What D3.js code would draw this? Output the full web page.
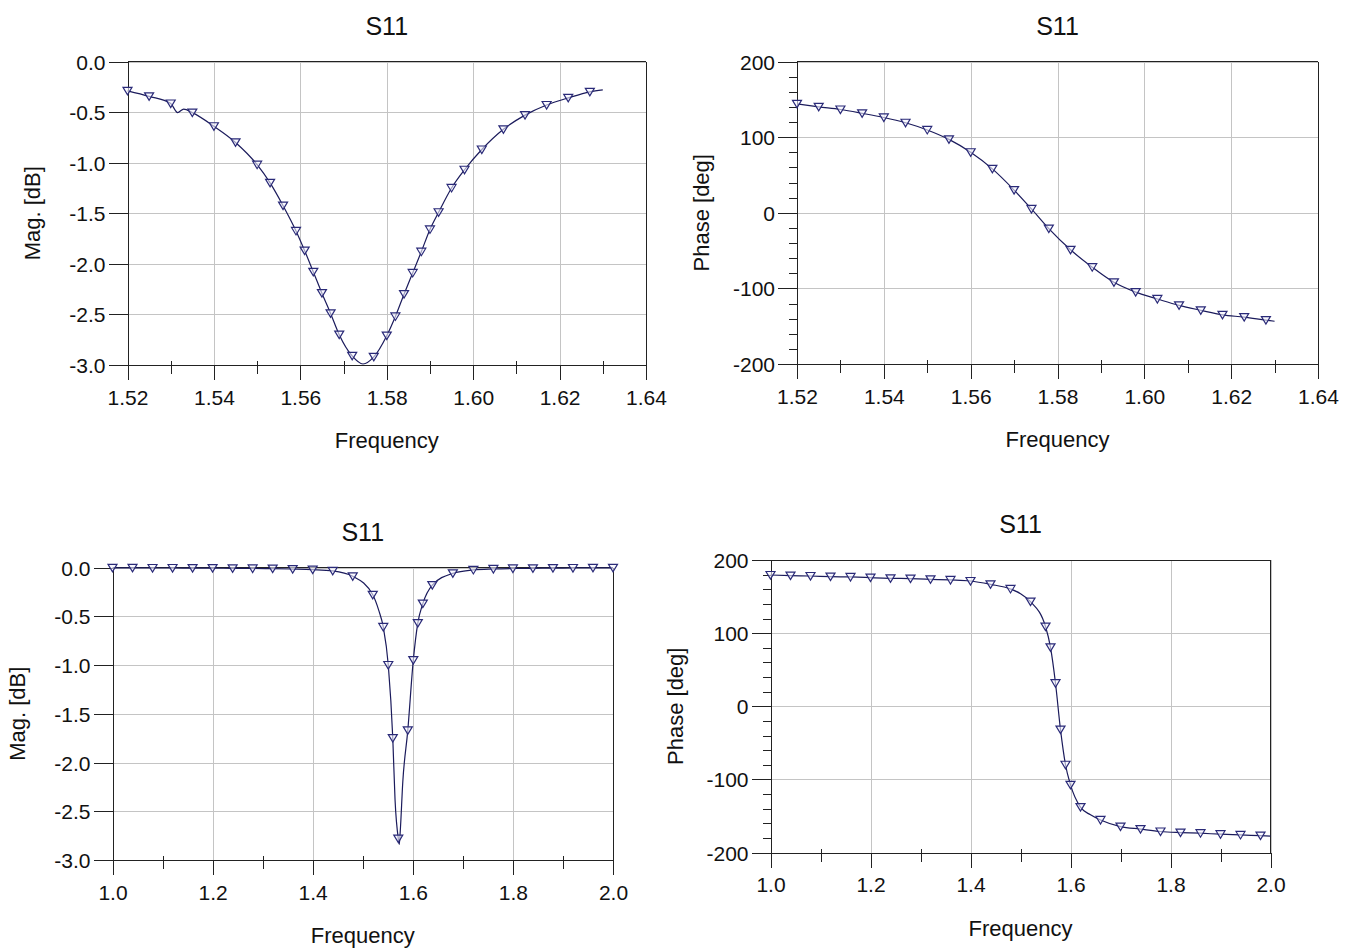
<!DOCTYPE html>
<html><head><meta charset="utf-8">
<script src="https://cdn.jsdelivr.net/npm/d3@7"></script>
<style>
body{margin:0;background:#fff}
svg text{font-family:"Liberation Sans",Arial,sans-serif;fill:#111}
</style>
</head><body>
<svg id="c" width="1355" height="951"></svg>
<script>
// ---------- Data ----------
// Top-left: S11 magnitude, narrow band
const tlMarkFreq = [1.520,1.525,1.530,1.535,1.540,1.545,1.550,1.553,1.556,1.559,1.561,1.563,1.565,1.567,1.569,1.572,1.577,1.580,1.582,1.584,1.586,1.588,1.590,1.592,1.595,1.598,1.602,1.607,1.612,1.617,1.622,1.627];
const tlMarkMag  = [-0.29,-0.345,-0.415,-0.505,-0.64,-0.80,-1.02,-1.20,-1.425,-1.675,-1.87,-2.08,-2.29,-2.49,-2.70,-2.91,-2.92,-2.71,-2.52,-2.30,-2.09,-1.88,-1.66,-1.49,-1.25,-1.07,-0.87,-0.67,-0.53,-0.43,-0.36,-0.30];
const tlExtraFreq = [1.5316,1.5330,1.5745,1.630];
const tlExtraMag  = [-0.505,-0.47,-2.99,-0.28];

// Top-right: S11 phase, narrow band
const trMarkFreq  = [1.520,1.525,1.530,1.535,1.540,1.545,1.550,1.555,1.560,1.565,1.570,1.574,1.578,1.583,1.588,1.593,1.598,1.603,1.608,1.613,1.618,1.623,1.628];
const trMarkPhase = [144,140,136.5,131.5,126,119,109.5,97,80,58,30,5,-21,-49,-72,-92,-105,-114,-122.5,-129,-135,-138,-142];
const trExtraFreq  = [1.630];
const trExtraPhase = [-143.5];

// Bottom-left: S11 magnitude, wide band
const blMarkFreq = [1.00,1.04,1.08,1.12,1.16,1.20,1.24,1.28,1.32,1.36,1.40,1.44,1.48,1.52,1.541,1.551,1.560,1.571,1.590,1.601,1.610,1.620,1.639,1.680,1.721,1.761,1.80,1.84,1.88,1.92,1.96,2.00];
const blMarkMag  = [-0.004,-0.004,-0.005,-0.005,-0.006,-0.007,-0.008,-0.010,-0.012,-0.016,-0.022,-0.035,-0.09,-0.28,-0.61,-1.00,-1.75,-2.78,-1.67,-0.95,-0.57,-0.37,-0.18,-0.06,-0.025,-0.015,-0.010,-0.008,-0.006,-0.005,-0.004,-0.004];
const blExtraFreq = [1.532,1.5645,1.573,1.575,1.580];
const blExtraMag  = [-0.44,-2.38,-2.84,-2.70,-2.20];

// Bottom-right: S11 phase, wide band
const brMarkFreq  = [1.00,1.04,1.08,1.12,1.16,1.20,1.24,1.28,1.32,1.36,1.40,1.44,1.48,1.52,1.55,1.56,1.57,1.58,1.59,1.60,1.62,1.66,1.70,1.74,1.78,1.82,1.86,1.90,1.94,1.98];
const brMarkPhase = [179.5,178.6,178.1,177.2,176.8,175.9,175,174.5,173.6,172.7,171.3,166.7,160.4,143,109,80.5,31.5,-32,-80,-107.5,-138,-155.5,-164.5,-168,-171.3,-172.7,-173.6,-175,-176,-177];
const brExtraFreq  = [1.50,1.64,2.00];
const brExtraPhase = [154,-148.5,-177.5];

// Ticks
const narrowXTicks  = [1.52,1.54,1.56,1.58,1.60,1.62,1.64];
const narrowXLabels = ["1.52","1.54","1.56","1.58","1.60","1.62","1.64"];
const narrowXMinor  = [1.53,1.55,1.57,1.59,1.61,1.63];
const wideXTicks  = [1.0,1.2,1.4,1.6,1.8,2.0];
const wideXLabels = ["1.0","1.2","1.4","1.6","1.8","2.0"];
const wideXMinor  = [1.1,1.3,1.5,1.7,1.9];
const magYTicks  = [0,-0.5,-1,-1.5,-2,-2.5,-3];
const magYLabels = ["0.0","-0.5","-1.0","-1.5","-2.0","-2.5","-3.0"];
const phaseYTicks  = [200,100,0,-100,-200];
const phaseYLabels = ["200","100","0","-100","-200"];
const phaseYMinor  = [180,160,140,120,80,60,40,20,-20,-40,-60,-80,-120,-140,-160,-180];

const titleText = "S11";
const xLabelText = "Frequency";
const magLabel = "Mag. [dB]";
const phaseLabel = "Phase [deg]";

// ---------- Layout ----------
const panels = [
  {box:{l:127.5,r:646,t:61.5,b:365}, xd:[1.52,1.64], yd:[-3,0], xt:narrowXTicks, xl:narrowXLabels, xm:narrowXMinor,
   yt:magYTicks, yl:magYLabels, ym:[], ylab:magLabel, mf:tlMarkFreq, mv:tlMarkMag, ef:tlExtraFreq, ev:tlExtraMag},
  {box:{l:797,r:1318,t:61.5,b:364}, xd:[1.52,1.64], yd:[-200,200], xt:narrowXTicks, xl:narrowXLabels, xm:narrowXMinor,
   yt:phaseYTicks, yl:phaseYLabels, ym:phaseYMinor, ylab:phaseLabel, mf:trMarkFreq, mv:trMarkPhase, ef:trExtraFreq, ev:trExtraPhase},
  {box:{l:112.5,r:613,t:567.5,b:860}, xd:[1,2], yd:[-3,0], xt:wideXTicks, xl:wideXLabels, xm:wideXMinor,
   yt:magYTicks, yl:magYLabels, ym:[], ylab:magLabel, mf:blMarkFreq, mv:blMarkMag, ef:blExtraFreq, ev:blExtraMag},
  {box:{l:770.5,r:1270.5,t:560,b:852.5}, xd:[1,2], yd:[-200,200], xt:wideXTicks, xl:wideXLabels, xm:wideXMinor,
   yt:phaseYTicks, yl:phaseYLabels, ym:phaseYMinor, ylab:phaseLabel, mf:brMarkFreq, mv:brMarkPhase, ef:brExtraFreq, ev:brExtraPhase}
];

const svg = d3.select("#c");
const FONT = '"Liberation Sans", Arial, sans-serif';
const lineColor = "#1b1b5c";
const markColor = "#2a2a78";

panels.forEach(p => {
  const B = p.box;
  const x = d3.scaleLinear().domain(p.xd).range([B.l, B.r]);
  const y = d3.scaleLinear().domain(p.yd).range([B.b, B.t]);
  const g = svg.append("g");
  const W = B.r - B.l, H = B.b - B.t;

  // gridlines
  const gx = g.append("g").attr("transform", `translate(0,${B.b})`)
    .call(d3.axisBottom(x).tickValues(p.xt).tickSize(-H).tickFormat(""));
  gx.select(".domain").remove();
  gx.selectAll("line").attr("stroke", "#c4c4c4").attr("shape-rendering","crispEdges");
  const gy = g.append("g").attr("transform", `translate(${B.l},0)`)
    .call(d3.axisLeft(y).tickValues(p.yt).tickSize(-W).tickFormat(""));
  gy.select(".domain").remove();
  gy.selectAll("line").attr("stroke", "#c4c4c4").attr("shape-rendering","crispEdges");

  // frame top / right
  g.append("line").attr("x1",B.l).attr("x2",B.r).attr("y1",B.t).attr("y2",B.t)
    .attr("stroke","#222").attr("shape-rendering","crispEdges");
  g.append("line").attr("x1",B.r).attr("x2",B.r).attr("y1",B.t).attr("y2",B.b)
    .attr("stroke","#222").attr("shape-rendering","crispEdges");

  // minor x ticks
  const mx = g.append("g").attr("transform", `translate(0,${B.b-4})`)
    .call(d3.axisBottom(x).tickValues(p.xm).tickSize(13).tickFormat(""));
  mx.select(".domain").remove();
  mx.selectAll("line").attr("stroke","#222").attr("shape-rendering","crispEdges");

  // minor y ticks
  if (p.ym.length) {
    const my = g.append("g").attr("transform", `translate(${B.l},0)`)
      .call(d3.axisLeft(y).tickValues(p.ym).tickSize(8).tickFormat(""));
    my.select(".domain").remove();
    my.selectAll("line").attr("stroke","#222").attr("shape-rendering","crispEdges");
  }

  // main x axis
  const ax = g.append("g").attr("transform", `translate(0,${B.b})`)
    .call(d3.axisBottom(x).tickValues(p.xt).tickFormat((d,i)=>p.xl[i]).tickSize(15).tickSizeOuter(0).tickPadding(10));
  ax.attr("font-size",21).attr("font-family",FONT);
  ax.selectAll("line").attr("stroke","#222").attr("shape-rendering","crispEdges");
  ax.select(".domain").attr("stroke","#222").attr("shape-rendering","crispEdges");
  ax.selectAll("text").attr("fill","#111");

  // main y axis
  const ay = g.append("g").attr("transform", `translate(${B.l},0)`)
    .call(d3.axisLeft(y).tickValues(p.yt).tickFormat((d,i)=>p.yl[i]).tickSize(19).tickSizeOuter(0).tickPadding(3));
  ay.attr("font-size",21).attr("font-family",FONT);
  ay.selectAll("line").attr("stroke","#222").attr("shape-rendering","crispEdges");
  ay.select(".domain").attr("stroke","#222").attr("shape-rendering","crispEdges");
  ay.selectAll("text").attr("fill","#111").attr("dy","0.36em");

  // titles and labels
  const cx = (B.l + B.r) / 2, cy = (B.t + B.b) / 2;
  g.append("text").attr("x",cx).attr("y",B.t-27).attr("text-anchor","middle")
    .attr("font-size",25).text(titleText);
  g.append("text").attr("x",cx).attr("y",B.b+83).attr("text-anchor","middle")
    .attr("font-size",22).text(xLabelText);
  g.append("text").attr("transform",`translate(${B.l-88},${cy}) rotate(-90)`)
    .attr("text-anchor","middle").attr("font-size",22).text(p.ylab);

  // curve
  const pts = p.mf.map((f,i)=>[f,p.mv[i]]).concat(p.ef.map((f,i)=>[f,p.ev[i]]))
    .sort((a,b)=>a[0]-b[0]);
  const line = d3.line().x(d=>x(d[0])).y(d=>y(d[1])).curve(d3.curveMonotoneX);
  g.append("path").attr("d", line(pts)).attr("fill","none")
    .attr("stroke", lineColor).attr("stroke-width",1.2);

  // markers (down triangles)
  const tri = "M-4.5,-3.5L4.5,-3.5L0,4Z";
  g.append("g").selectAll("path").data(p.mf.map((f,i)=>[f,p.mv[i]])).join("path")
    .attr("transform", d=>`translate(${x(d[0])},${y(d[1])})`)
    .attr("d", tri).attr("fill","#f5f5ff").attr("fill-opacity",0.6)
    .attr("stroke", markColor).attr("stroke-width",1.2);
});
</script>
</body></html>
